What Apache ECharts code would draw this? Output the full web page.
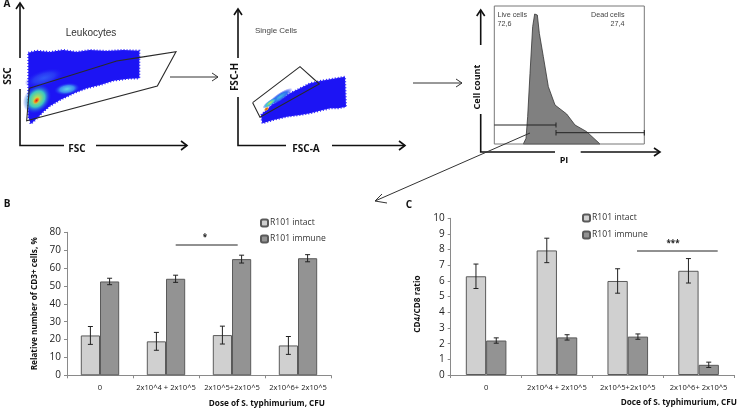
<!DOCTYPE html>
<html><head><meta charset="utf-8">
<style>html,body{margin:0;padding:0;background:#fff}#c{width:738px;height:409px}#c canvas{filter:blur(.35px)}</style>
<script src="https://cdn.jsdelivr.net/npm/echarts@6/dist/echarts.min.js"></script>
</head><body><div id="c"></div>
<script>
// ---- bar chart data
const categories = ['0','2x10^4 + 2x10^5','2x10^5+2x10^5','2x10^6+ 2x10^5'];
const bIntact = [22.3,19,22.5,16.7];
const bIntactErr = [5,5,5,5];
const bImmune = [52.5,54,65,65.5];
const bImmuneErr = [1.8,2,2.2,2];
const cIntact = [6.3,7.95,6.0,6.65];
const cIntactErr = [.78,.78,.78,.78];
const cImmune = [2.2,2.4,2.45,.65];
const cImmuneErr = [.17,.17,.17,.17];
const bTicks = {min:0,max:80,interval:10};
const cTicks = {min:0,max:10,interval:1};
// ---- gating diagram outlines (image units, mapped by the hidden overlay axes)
const z = (pts,ox=0,oy=0)=>pts.map(p=>[ox+p[0]/3,oy+p[1]/3]);
const cloud1 = z([[85,158],[110,152],[150,156],[190,150],[230,156],[270,150],[320,153],[370,150],[418,152],[418,235],[385,236],[340,242],[300,255],[260,265],[225,278],[180,300],[150,318],[130,335],[108,358],[92,372],[85,350]]);
const cloud2 = z([[183,345],[215,315],[240,300],[270,280],[300,265],[330,250],[360,243],[400,236],[435,230],[438,320],[415,325],[390,325],[330,340],[300,345],[260,350],[220,360],[187,370]],200);
const histogram = z([[190,432],[198,415],[203,350],[210,220],[218,80],[224,42],[232,45],[238,100],[250,170],[265,260],[285,315],[320,342],[345,375],[380,395],[420,432]],460);
const gate1 = z([[88,265],[350,183],[420,172],[528,155],[472,258],[80,362],[88,265]]);
const gate2 = z([[158,308],[300,200],[358,252],[180,352],[158,308]],200);
const frame = [[494.3,6],[644.3,6],[644.3,144],[494.3,144],[494.3,6]];
const axesLines = [
 [[20,3],[20,58]],[[20,89],[20,145.5],[64,145.5]],[[96,145.5],[187,145.5]],
 [[16,9],[20,3],[24,9]],[[181,141],[187,145.5],[181,150]],
 [[238,9],[238,58]],[[238,97],[238,145.5],[286,145.5]],[[332,145.5],[405,145.5]],
 [[234,15],[238,9],[242,15]],[[399,141],[405,145.5],[399,150]],
 [[480.7,10],[480.7,45]],[[480.7,114],[480.7,152],[555,152]],[[580.7,152],[660,152]],
 [[476.7,16],[480.7,10],[484.7,16]],[[654,148],[660,152],[654,156]]];
const flowArrows = [
 [[170,77],[218,77]],[[212,73],[218,77],[212,81]],
 [[413,83],[462,83]],[[456,79],[462,83],[456,87]],
 [[530,133],[375,201]],[[382,194],[375,201],[387,203]]];
const histGates = [
 [[494.3,125],[556,125]],[[556,122.5],[556,127.5]],
 [[556,132.7],[644.3,132.7]],[[556,130],[556,135.5]],[[644.3,130],[644.3,135.5]]];
const sigLines = [[[175.7,245],[237.7,245]],[[637,251],[717.7,251]]];
// [cx, cy, rx, ry, rotation, inner colour, mid colour, edge colour]
const blobs = [
 [44,78,20,8,-.3,'#3058f8','#2838f4','rgba(30,30,245,0)'],
 [67,89,13,6,-.15,'#60d8e8','#3c8cf0','rgba(30,40,245,0)'],
 [37,99,16,12.5,-.85,'#d8e838','#3cc8c0','rgba(30,60,245,0)'],
 [36.5,100.5,4.5,3,-.85,'#e01818','#f09020','rgba(230,220,50,0)'],
 [280,97,15,4,-.6,'#40b8e0','#3070f0','rgba(30,30,245,0)'],
 [270,103,9,2.8,-.62,'#c8e050','#38c8d0','rgba(30,50,245,0)'],
 [266.5,109,3,1.8,-.62,'#e02020','#f0a020','rgba(220,220,60,0)']
];
const labels = [
 ['A',7,4,10,'bold','#111',0,'center'],['B',7,204.5,10,'bold','#111',0,'center'],['C',409,205,10,'bold','#111',0,'center'],
 ['Leukocytes',91,33,10,'normal','#333',0,'center','Liberation Sans'],
 ['Single Cells',276,31,8,'normal','#444',0,'center','Liberation Sans'],
 ['Live cells',497.5,15.5,7.2,'normal','#444',0,'left','Liberation Sans'],
 ['72,6',497.5,24.5,7.2,'normal','#444',0,'left','Liberation Sans'],
 ['Dead cells',624.5,15.5,7.2,'normal','#444',0,'right','Liberation Sans'],
 ['27,4',624.5,24.5,7.2,'normal','#444',0,'right','Liberation Sans'],
 ['SSC',8,76,10,'bold','#111',1,'center'],['FSC',77,149.5,10,'bold','#111',0,'center'],
 ['FSC-H',235,77,10,'bold','#111',1,'center'],['FSC-A',306,149.5,10,'bold','#111',0,'center'],
 ['Cell count',477.5,87,9,'bold','#111',1,'center'],['PI',564,160,9,'bold','#111',0,'center'],
 ['*',205,238,8,'bold','#222',0,'center'],['***',673,244,8,'bold','#222',0,'center']
];
const FONT='"Open Sans","Noto Sans",sans-serif';
const BAR_B=19.2, BAR_C=20.3;

function pathSeries(name,lines,style,z2){
 return {type:'custom',name,xAxisIndex:0,yAxisIndex:0,coordinateSystem:'cartesian2d',clip:false,silent:true,z:z2||2,
  data:lines.map((_,i)=>[i,0]),
  renderItem:(p,api)=>({type:'polyline',shape:{points:lines[api.value(0)].map(pt=>api.coord(pt))},style:Object.assign({fill:null},style)})};
}
function polySeries(name,polys,style,z2){
 return {type:'custom',name,xAxisIndex:0,yAxisIndex:0,clip:false,silent:true,z:z2||2,
  data:polys.map((_,i)=>[i,0]),
  renderItem:(p,api)=>({type:'polygon',shape:{points:polys[api.value(0)].map(pt=>api.coord(pt))},style})};
}
const blobSeries={type:'custom',name:'density',xAxisIndex:0,yAxisIndex:0,clip:false,silent:true,z:2,
 data:blobs.map((_,i)=>[i,0]),
 renderItem:(p,api)=>{const b=blobs[api.value(0)];const c=api.coord([b[0],b[1]]);
  return {type:'circle',x:c[0],y:c[1],rotation:-b[4],scaleX:b[2]/10,scaleY:b[3]/10,shape:{cx:0,cy:0,r:10},
   style:{fill:new echarts.graphic.RadialGradient(.5,.5,.5,[{offset:0,color:b[5]},{offset:.55,color:b[6]},{offset:1,color:b[7]}])}};}};
function errSeries(name,gi,vals,errs,dir,barW,capW){
 return {type:'custom',name,xAxisIndex:gi,yAxisIndex:gi,z:5,silent:true,
  data:vals.map((v,i)=>[i,v,errs[i]]),
  renderItem:(p,api)=>{const i=api.value(0),v=api.value(1),e=api.value(2);
   const t=api.coord([i,v+e]),b=api.coord([i,v-e]);const x=t[0]+dir*barW/2;
   const st={stroke:'#222',lineWidth:1,fill:null};
   return {type:'group',children:[
    {type:'line',shape:{x1:x,y1:t[1],x2:x,y2:b[1]},style:st},
    {type:'line',shape:{x1:x-capW,y1:t[1],x2:x+capW,y2:t[1]},style:st},
    {type:'line',shape:{x1:x-capW,y1:b[1],x2:x+capW,y2:b[1]},style:st}]};}};
}
function bar(name,gi,vals,color,w){
 return {type:'bar',name,xAxisIndex:gi,yAxisIndex:gi,data:vals,barWidth:w,barGap:0,
  itemStyle:{color,borderColor:'#5a5a5a',borderWidth:1},z:3,silent:true};
}
const axisColor='#8a8a8a';
const xA=(gi,name,right)=>({type:'category',gridIndex:gi,data:categories,
  axisLine:{show:true,onZero:false,lineStyle:{color:axisColor}},axisTick:{show:true,alignWithLabel:false,length:3,lineStyle:{color:axisColor}},
  axisLabel:{interval:0,fontFamily:FONT,fontSize:7.6,color:'#222',margin:9},
  name,nameLocation:'end',nameGap:right,nameTextStyle:{fontFamily:FONT,fontSize:8.2,fontWeight:'bold',color:'#111',align:'right',verticalAlign:'top',padding:[24,0,0,0]}});
const yA=(gi,t,name,gap,shift)=>({type:'value',gridIndex:gi,min:t.min,max:t.max,interval:t.interval,splitLine:{show:false},
  axisLine:{show:true,lineStyle:{color:axisColor}},axisTick:{show:true,length:3,lineStyle:{color:axisColor}},
  axisLabel:{fontFamily:FONT,fontSize:10,color:'#222',margin:6},
  name,nameLocation:'middle',nameGap:gap,nameRotate:90,nameTextStyle:{fontFamily:FONT,fontSize:8.2,fontWeight:'bold',color:'#111',padding:[0,shift,0,0]}});
const legend=(left,top,gap)=>({orient:'vertical',left,top,itemWidth:7,itemHeight:7,itemGap:gap,selectedMode:false,padding:0,
  data:['R101 intact','R101 immune'],textStyle:{fontFamily:FONT,fontSize:8.6,color:'#333',padding:[0,0,0,-3]}});

const chart=echarts.init(document.getElementById('c'),null,{renderer:'canvas'});
chart.setOption({
 animation:false,backgroundColor:'#fff',
 grid:[{left:0,top:0,width:738,height:409},{left:67,top:232.3,width:264,height:143},{left:450.7,top:218.3,width:284.3,height:156.7}],
 xAxis:[{type:'value',gridIndex:0,min:0,max:738,show:false},xA(1,'Dose of S. typhimurium, CFU',-6),xA(2,'Doce of S. typhimurium, CFU',3)],
 yAxis:[{type:'value',gridIndex:0,min:0,max:409,inverse:true,show:false},
  yA(1,bTicks,'Relative number of CD3+ cells, %',28,0),yA(2,cTicks,'CD4/CD8 ratio',29,15)],
 legend:[legend(260,218.5,7),legend(582,213.5,8)],
 graphic:labels.map(l=>({type:'text',x:l[1],y:l[2],rotation:l[6]?Math.PI/2:0,silent:true,z:20,
  style:{text:l[0],fontSize:l[3],fontWeight:l[4],fill:l[5],align:l[7],verticalAlign:'middle',fontFamily:l[8]||FONT}})),
 series:[
  polySeries('cloud',[cloud1,cloud2],{fill:'#1c14f4',stroke:'#2a20ff',lineWidth:2,lineDash:[1,2]},1),
  blobSeries,
  pathSeries('gates',[gate1,gate2],{stroke:'#2a2a2a',lineWidth:1.1},3),
  polySeries('histogram',[histogram],{fill:'#808080',stroke:'#333',lineWidth:.8},1),
  pathSeries('frame',[frame],{stroke:'#777',lineWidth:1},2),
  pathSeries('histGates',histGates,{stroke:'#222',lineWidth:1},3),
  pathSeries('axes',axesLines,{stroke:'#111',lineWidth:1.6},3),
  pathSeries('flowArrows',flowArrows,{stroke:'#333',lineWidth:1},4),
  pathSeries('significance',sigLines,{stroke:'#222',lineWidth:1},4),
  bar('R101 intact',1,bIntact,'#d0d0d0',BAR_B),
  bar('R101 immune',1,bImmune,'#939393',BAR_B),
  errSeries('err1',1,bIntact,bIntactErr,-1,BAR_B,2.5),
  errSeries('err2',1,bImmune,bImmuneErr,1,BAR_B,2.5),
  bar('R101 intact',2,cIntact,'#d0d0d0',BAR_C),
  bar('R101 immune',2,cImmune,'#939393',BAR_C),
  errSeries('err3',2,cIntact,cIntactErr,-1,BAR_C,2.5),
  errSeries('err4',2,cImmune,cImmuneErr,1,BAR_C,2.5)
 ]
});
</script></body></html>
